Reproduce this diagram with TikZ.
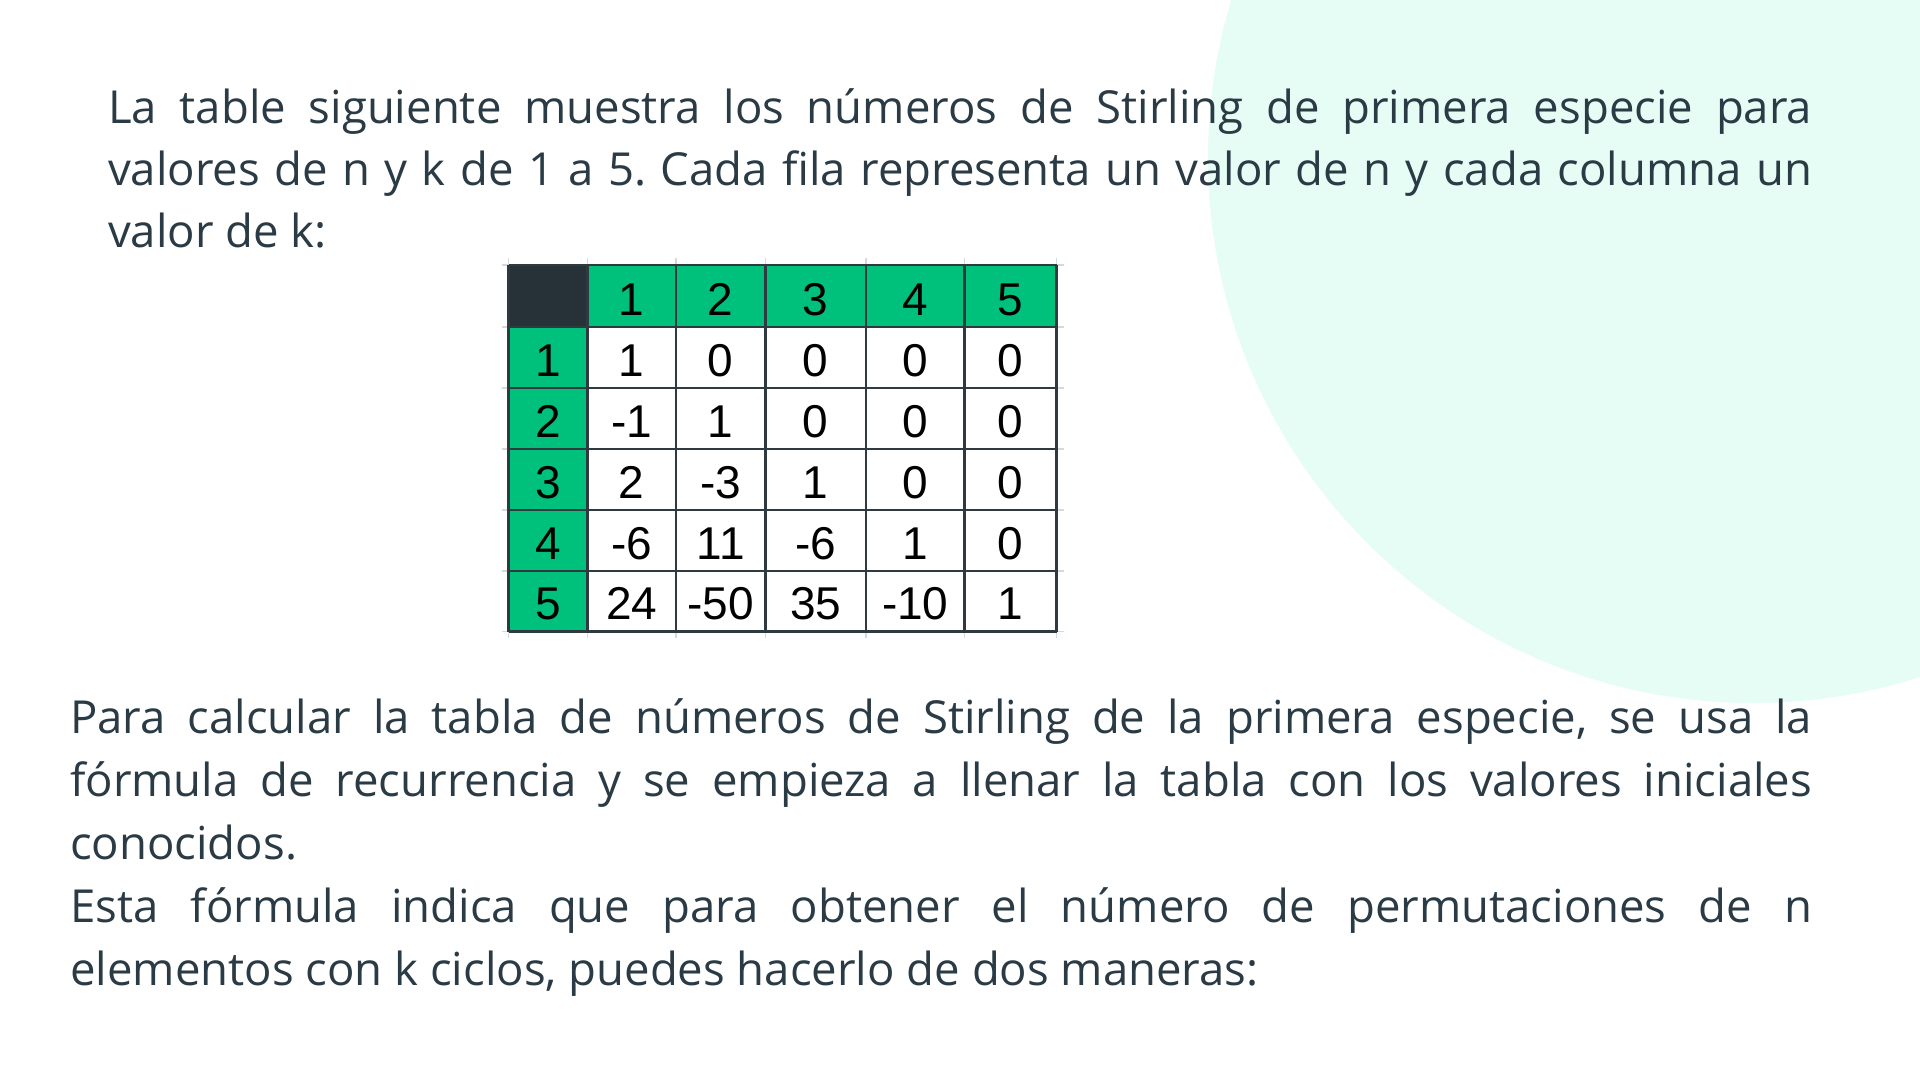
\documentclass[tikz,border=0pt]{standalone}
\usepackage{fontspec}
\setmainfont{Open Sans}
\newfontfamily\tablefont{Liberation Sans}
\definecolor{mint}{HTML}{E5FDF5}
\definecolor{txt}{HTML}{2B3B45}
\definecolor{hgreen}{HTML}{00C17C}
\definecolor{hdark}{HTML}{263238}
\definecolor{gridc}{HTML}{2E3A3F}
\definecolor{tickc}{HTML}{D6D9DA}
\tolerance=10000
\hbadness=10000
\hyphenpenalty=10000
\exhyphenpenalty=10000
\frenchspacing
\begin{document}
\begin{tikzpicture}[x=1pt,y=-1pt,
  para/.style={anchor=base west, inner sep=0pt, align=justify, text=txt},
  cellnum/.style={anchor=base, inner sep=0pt, text=black, font=\tablefont\fontsize{46}{50}\selectfont}]
\useasboundingbox (0,0) rectangle (1920,1080);
\clip (0,0) rectangle (1920,1080);
\fill[white] (0,0) rectangle (1920,1080);
% decorative background disc
\fill[mint] (1753,158) circle[radius=545pt];

% paragraph 1
\node[para, text width=1704pt, font=\frenchspacing\fontsize{45.5}{62}\selectfont] (para1) at (108,123)
 {La table siguiente muestra los números de Stirling de primera especie para\linebreak
  valores de n y k de 1 a 5. Cada fila representa un valor de n y cada columna un\linebreak
  valor de k:};

% paragraph 2
\node[para, text width=1742pt, font=\frenchspacing\fontsize{45.5}{63}\selectfont] (para2) at (70,733)
 {Para calcular la tabla de números de Stirling de la primera especie, se usa la\linebreak
  fórmula de recurrencia y se empieza a llenar la tabla con los valores iniciales\linebreak
  conocidos.\newline
  Esta fórmula indica que para obtener el número de permutaciones de n\linebreak
  elementos con k ciclos, puedes hacerlo de dos maneras:};

% table fills
\fill[hdark] (508.5,265) rectangle (587.5,327);
\fill[hgreen] (587.5,265) rectangle (1056.5,327);
\fill[hgreen] (508.5,327) rectangle (587.5,631.5);

% faint spreadsheet grid ticks
\foreach \gx in {508.5,587.5,676,765.5,866,964.5,1056.5} {
  \draw[tickc, line width=1.2pt] (\gx,258) -- (\gx,265);
  \draw[tickc, line width=1.2pt] (\gx,631.5) -- (\gx,638);
}
\foreach \gy in {265,327,388,449,510,571,631.5} {
  \draw[tickc, line width=1.2pt] (501.5,\gy) -- (508.5,\gy);
  \draw[tickc, line width=1.2pt] (1056.5,\gy) -- (1063.5,\gy);
}
% table grid
\foreach \gx in {508.5,587.5,676,765.5,866,964.5,1056.5}
  \draw[gridc, line width=2.5pt] (\gx,265) -- (\gx,631.5);
\foreach \gy in {265,327,388,449,510,571,631.5}
  \draw[gridc, line width=2.5pt] (508.5,\gy) -- (1056.5,\gy);

% header row and header column
\foreach \cx [count=\c] in {631.75,720.75,815.75,915.25,1010.5}
  \node[cellnum] (h\c) at (\cx,315) {\c};
\foreach \by [count=\r] in {376,437,498,559,619.5}
  \node[cellnum] (r\r) at (548,\by) {\r};

% data cells
\foreach \row [count=\r] in {{1,0,0,0,0},{-1,1,0,0,0},{2,-3,1,0,0},{-6,11,-6,1,0},{24,-50,35,-10,1}} {
  \foreach \v [count=\c] in \row {
    \pgfmathsetmacro\cx{{631.75,720.75,815.75,915.25,1010.5}[\c-1]}
    \pgfmathsetmacro\by{{376,437,498,559,619.5}[\r-1]}
    \node[cellnum] (d\r-\c) at (\cx,\by) {\v};
  }
}
\end{tikzpicture}
\end{document}
